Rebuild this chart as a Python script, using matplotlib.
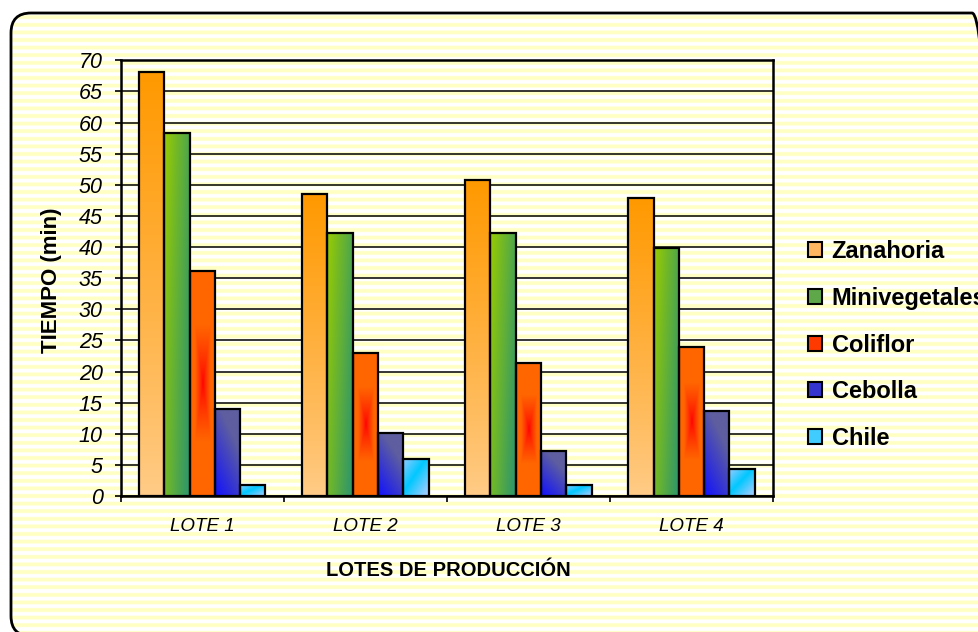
import matplotlib
matplotlib.use("Agg")
import matplotlib.pyplot as plt
import numpy as np
from matplotlib.patches import FancyBboxPatch, Patch
from matplotlib.ticker import MultipleLocator, FixedLocator

plt.rcParams['font.family'] = ['Liberation Sans', 'DejaVu Sans']

# data
lotes = ["LOTE 1", "LOTE 2", "LOTE 3", "LOTE 4"]
productos = ["Zanahoria", "Minivegetales", "Coliflor", "Cebolla", "Chile"]
zanahoria = [68.1, 48.5, 50.7, 47.8]
minivegetales = [58.4, 42.3, 42.3, 39.8]
coliflor = [36.2, 23.0, 21.4, 24.0]
cebolla = [14.0, 10.1, 7.2, 13.7]
chile = [1.8, 6.0, 1.8, 4.3]
series = [zanahoria, minivegetales, coliflor, cebolla, chile]


def hex2rgb(h):
    h = h.lstrip("#")
    return np.array([int(h[i:i + 2], 16) for i in (0, 2, 4)]) / 255.0


def mix(c1, c2, t):
    t = np.clip(t, 0, 1)[..., None]
    return hex2rgb(c1) * (1 - t) + hex2rgb(c2) * t


n = 64
gx, gy = np.meshgrid(np.linspace(0, 1, n), np.linspace(0, 1, 4 * n))  # gy: 0 bottom


def img_zanahoria():
    return mix("#FFCC88", "#FF9900", gy ** 0.9)


def img_mini():
    return mix("#99CC00", "#339966", 0.75 * gx + 0.35 * (1 - gy))


def img_coliflor():
    t = np.maximum(np.abs(gx - 0.5) * 2, np.abs(gy - 0.5) * 2.4)
    return mix("#FF0000", "#FF6600", np.clip(t * 1.6, 0, 1) ** 0.8)


def img_cebolla():
    return mix("#1010FF", "#5E5EA0", 0.55 * gx + 0.9 * gy)


def img_chile():
    t = np.abs((gx + (1 - gy)) / 2 - 0.45) * 2.2
    return mix("#00C8FF", "#99CCFF", t)


imgs = [img_zanahoria, img_mini, img_coliflor, img_cebolla, img_chile]
legend_cols = ["#FFB660", "#5FA84A", "#FF3A00", "#3535D0", "#40CCFF"]

W, H = 979, 632
fig = plt.figure(figsize=(W / 100, H / 100), dpi=100)
fig.patch.set_facecolor("white")

# background frame with stripes (right and bottom edges run past the picture)
bg = fig.add_axes([0, 0, 1, 1])
bg.set_xlim(0, W)
bg.set_ylim(0, H)
bg.axis("off")
fx, fy, fw, fh = 11, -4, 981, 623   # y measured from the bottom
frame = FancyBboxPatch((fx, fy), fw, fh, boxstyle="round,pad=0,rounding_size=20",
                       facecolor="white", edgecolor="none", zorder=0)
bg.add_patch(frame)
rows = np.arange(H * 4) / 4.0
stripe = ((rows % 7.6) < 3.8).astype(float)
simg = mix("#FFFFFF", "#FFFFC4", stripe)[:, None, :].repeat(2, axis=1)
im = bg.imshow(simg, extent=[0, W, 0, H], origin="upper", aspect="auto", zorder=1,
               interpolation="bilinear")
im.set_clip_path(frame)
edge = FancyBboxPatch((fx, fy), fw, fh, boxstyle="round,pad=0,rounding_size=20",
                      facecolor="none", edgecolor="black", linewidth=2, zorder=3,
                      clip_on=False)
bg.add_patch(edge)

# plot area
x0, x1, ytop, ybot = 120.7, 773, 60.3, 496
ax = fig.add_axes([x0 / W, 1 - ybot / H, (x1 - x0) / W, (ybot - ytop) / H])
ax.patch.set_alpha(0)

x = np.arange(len(lotes))
bw = 0.155
for i, vals in enumerate(series):
    bars = ax.bar(x + (i - 2) * bw, vals, width=bw, facecolor="none",
                  edgecolor="black", linewidth=1.6, zorder=4)
    for p in bars.patches:
        bx, by, pw, ph = p.get_x(), p.get_y(), p.get_width(), p.get_height()
        g = ax.imshow(imgs[i](), extent=[bx, bx + pw, by, by + ph], origin="lower",
                      aspect="auto", zorder=3, interpolation="bilinear")
        g.set_clip_path(p)

ax.set_xlim(-0.5, 3.5)
ax.set_ylim(0, 70)
ax.yaxis.set_major_locator(MultipleLocator(5))
ax.grid(axis="y", color="black", linewidth=1.1, zorder=1)
ax.set_axisbelow(True)
for s in ax.spines.values():
    s.set_linewidth(1.8)

ax.set_xticks(x)
ax.set_xticklabels(lotes, fontsize=13.5, fontstyle="italic")
ax.xaxis.set_minor_locator(FixedLocator([-0.5, 0.5, 1.5, 2.5, 3.5]))
ax.tick_params(axis="x", which="major", length=0, pad=16)
ax.tick_params(axis="x", which="minor", length=4, width=1.2, direction="out")
ax.tick_params(axis="y", length=4, width=1.2, direction="out", labelsize=15.5, pad=9)
for lab in ax.get_yticklabels():
    lab.set_fontstyle("italic")

fig.text(448 / W, 1 - 570 / H, "LOTES DE PRODUCCIÓN", fontsize=14.5, fontweight="bold",
         ha="center", va="center")
fig.text(52 / W, 1 - 280 / H, "TIEMPO (min)", fontsize=16, fontweight="bold",
         ha="center", va="center", rotation=90)

handles = [Patch(facecolor=c, edgecolor="black", linewidth=1.5) for c in legend_cols]
fig.legend(handles, productos, loc="center left", bbox_to_anchor=(808 / W, 1 - 345 / H),
           frameon=False, prop={"weight": "bold", "size": 17}, borderpad=0, borderaxespad=0,
           handlelength=0.6, handleheight=0.6, handletextpad=0.4, labelspacing=1.0)

fig.savefig("out.png", dpi=100)
